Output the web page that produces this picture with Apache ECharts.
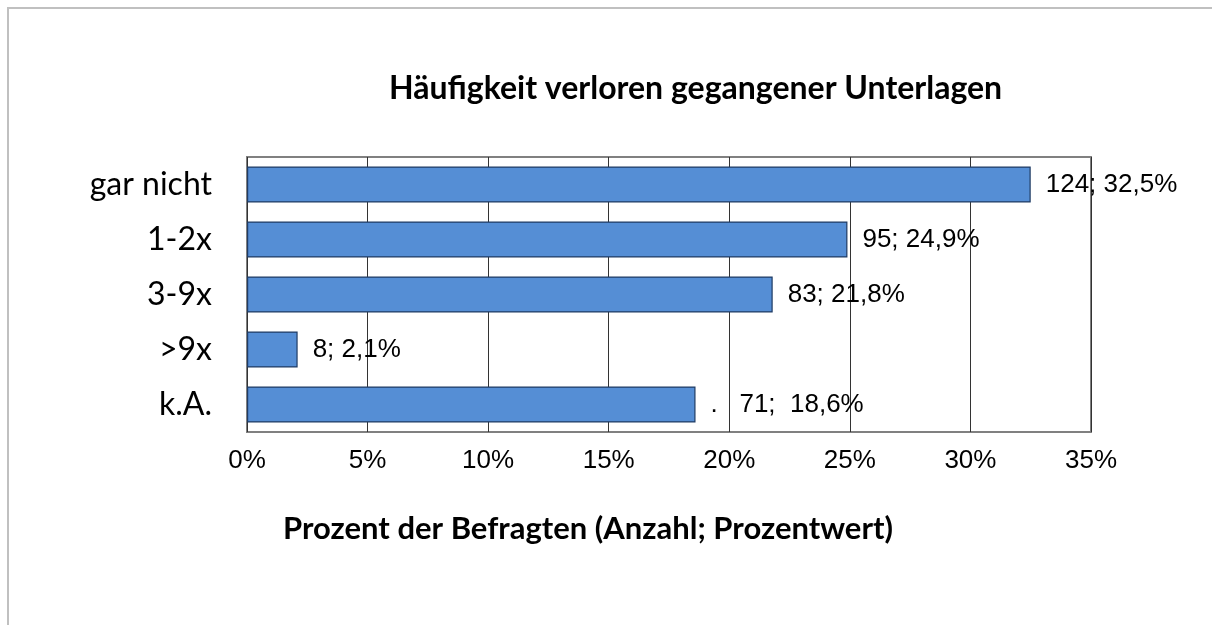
<!DOCTYPE html>
<html>
<head>
<meta charset="utf-8">
<script src="https://cdn.jsdelivr.net/npm/echarts@6/dist/echarts.min.js"></script>
<style>
    html, body { margin: 0; padding: 0; background: #fff; }
    #frame { position: absolute; left: 7px; top: 7px; right: 0; bottom: 0; border-top: 2px solid #c0c0c0; border-left: 2px solid #c0c0c0; }
    #chart1 { position: absolute; left: 0; top: 0; width: 1212px; height: 625px; }
</style>
</head>
<body>
<div id="frame"></div>
<div id="chart1"></div>
<script>
    var categories = ['gar nicht', '1-2x', '3-9x', '>9x', 'k.A.'];
    var counts = [124, 95, 83, 8, 71];
    var percents = [32.5, 24.9, 21.8, 2.1, 18.6];
    var labelTexts = ['124; 32,5%', '95; 24,9%', '83; 21,8%', '8; 2,1%', '.   71;  18,6%'];
    var tickValues = [0, 5, 10, 15, 20, 25, 30, 35];

    var barColor = '#558ed5';
    var calibri = 'Lato, "Open Sans", sans-serif';
    var arial = '"Liberation Sans", Arial, sans-serif';

    var barOption = {
        animation: false,
        title: {
            text: 'Häufigkeit verloren gegangener Unterlagen',
            left: 384,
            top: 68,
            textStyle: { color: '#000', fontFamily: calibri, fontWeight: 'bold', fontSize: 32 }
        },
        grid: {
            left: 247,
            right: 121,
            top: 157,
            bottom: 193,
            show: true,
            borderColor: '#808080',
            borderWidth: 2,
            containLabel: false
        },
        xAxis: {
            type: 'value',
            min: 0,
            max: 35,
            interval: 5,
            name: 'Prozent der Befragten (Anzahl; Prozentwert)',
            nameLocation: 'middle',
            nameGap: 81,
            nameTextStyle: { color: '#000', fontFamily: calibri, fontWeight: 'bold', fontSize: 31, padding: [0, 162, 0, 0] },
            axisLine: { show: false },
            axisTick: { show: false },
            axisLabel: {
                color: '#000',
                fontFamily: arial,
                fontSize: 26,
                margin: 16,
                formatter: function(v) { return v + '%'; }
            },
            splitLine: { show: true, lineStyle: { color: '#333', width: 1 } }
        },
        yAxis: {
            type: 'category',
            inverse: true,
            data: categories,
            axisLine: { show: false },
            axisTick: { show: false },
            axisLabel: { color: '#000', fontFamily: calibri, fontSize: 32, margin: 35 },
            splitLine: { show: false }
        },
        series: [{
            type: 'bar',
            barWidth: 36,
            data: percents,
            itemStyle: { color: barColor, borderColor: '#1f3b63', borderWidth: 1.2 },
            label: {
                show: true,
                position: 'right',
                distance: 15,
                color: '#000',
                fontFamily: arial,
                fontSize: 26,
                formatter: function(p) { return labelTexts[p.dataIndex]; }
            }
        }]
    };
    var chart1 = echarts.init(document.getElementById('chart1'));
    chart1.setOption(barOption);
    window.onresize = function() {
        chart1.resize();
    };
</script>
</body>
</html>
